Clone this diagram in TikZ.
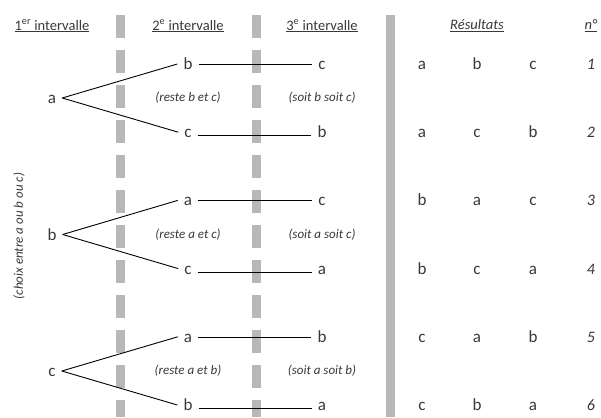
\documentclass[tikz,border=0pt]{standalone}
\usepackage{fontspec}
\setmainfont{Carlito}
\definecolor{barre}{gray}{0.72}
\definecolor{texte}{gray}{0.22}
\tikzset{
  lettre/.style={font=\fontsize{17}{19}\selectfont, text=texte, text height=11pt, text depth=0pt, inner xsep=6pt, inner ysep=1pt},
  rang/.style={lettre, font=\fontsize{16}{18}\selectfont\itshape},
  titre/.style={font=\fontsize{14.5}{16}\selectfont, text=texte},
  remarque/.style={font=\fontsize{13}{15}\selectfont\itshape, text=texte},
  branche/.style={draw=black, line width=0.9pt},
  trait/.style={draw=black, line width=0.6pt},
  soustrait/.style={draw=black, line width=1pt},
  separation/.style={draw=barre, line width=9pt, dash pattern=on 23pt off 12pt},
}
\begin{document}
\begin{tikzpicture}[x=1pt,y=-1pt]
\useasboundingbox (0,0) rectangle (601,417);

% barres grises
\draw[separation] (120,15) -- (120,417);
\draw[separation] (256,15) -- (256,417);
\draw[draw=barre, line width=9pt] (390,15) -- (390,417);

% titres
\node[titre] (t1) at (52,26) {\underline{1\textsuperscript{er} intervalle}};
\node[titre] (t2) at (188,26) {\underline{2\textsuperscript{e} intervalle}};
\node[titre] (t3) at (322,26) {\underline{3\textsuperscript{e} intervalle}};
\node[titre] (tr) at (477,26) {\underline{\textit{Résultats}}};
\node[titre] (tn) at (591,26) {\underline{\textit{n°}}};

\node[remarque, rotate=90] (choix) at (19,236) {(choix entre \textit{a} ou \textit{b} ou \textit{c})};

% 1er intervalle
\node[lettre] (a1) at (52,98) {a};
\node[lettre] (b1) at (52,234.5) {b};
\node[lettre] (c1) at (52,371) {c};

% 2e intervalle
\node[lettre] (b2) at (188,64) {b};
\node[lettre] (c2) at (188,132.2) {c};
\node[lettre] (a3) at (188,200.4) {a};
\node[lettre] (c4) at (188,268.6) {c};
\node[lettre] (a5) at (188,336.8) {a};
\node[lettre] (b6) at (188,405) {b};

\node[remarque] (r1) at (188,98) {(reste b et c)};
\node[remarque] (r2) at (188,234.5) {(reste a et c)};
\node[remarque] (r3) at (188,371) {(reste a et b)};

% 3e intervalle
\node[lettre] (c2b) at (322,64) {c};
\node[lettre] (b2c) at (322,132.2) {b};
\node[lettre] (c3a) at (322,200.4) {c};
\node[lettre] (a4c) at (322,268.6) {a};
\node[lettre] (b5a) at (322,336.8) {b};
\node[lettre] (a6b) at (322,405) {a};

\node[remarque] (s1) at (322,98) {(soit b soit c)};
\node[remarque] (s2) at (322,234.5) {(soit a soit c)};
\node[remarque] (s3) at (322,371) {(soit a soit b)};

% resultats
\foreach \y/\p/\q/\r/\n in {64/a/b/c/1, 132.2/a/c/b/2, 200.4/b/a/c/3, 268.6/b/c/a/4, 336.8/c/a/b/5, 405/c/b/a/6}{
  \node[lettre] (p\n) at (422,\y) {\p};
  \node[lettre] (q\n) at (477,\y) {\q};
  \node[lettre] (r\n) at (533,\y) {\r};
  \node[rang] (n\n) at (591,\y) {\n};
}

% branches
\draw[branche] (a1.east) -- (b2.west);
\draw[branche] (a1.east) -- (c2.west);
\draw[branche] (b1.east) -- (a3.west);
\draw[branche] (b1.east) -- (c4.west);
\draw[branche] (c1.east) -- (a5.west);
\draw[branche] (c1.east) -- (b6.west);

\draw[trait] (b2.east) -- (c2b.west);
\draw[trait] (a3.east) -- (c3a.west);
\draw[trait] (a5.east) -- (b5a.west);
\draw[soustrait] ([yshift=2pt]c2.base east) -- ([yshift=2pt]b2c.base west);
\draw[soustrait] ([yshift=2pt]c4.base east) -- ([yshift=2pt]a4c.base west);
\draw[soustrait] ([yshift=2pt]b6.base east) -- ([yshift=2pt]a6b.base west);
\end{tikzpicture}
\end{document}
